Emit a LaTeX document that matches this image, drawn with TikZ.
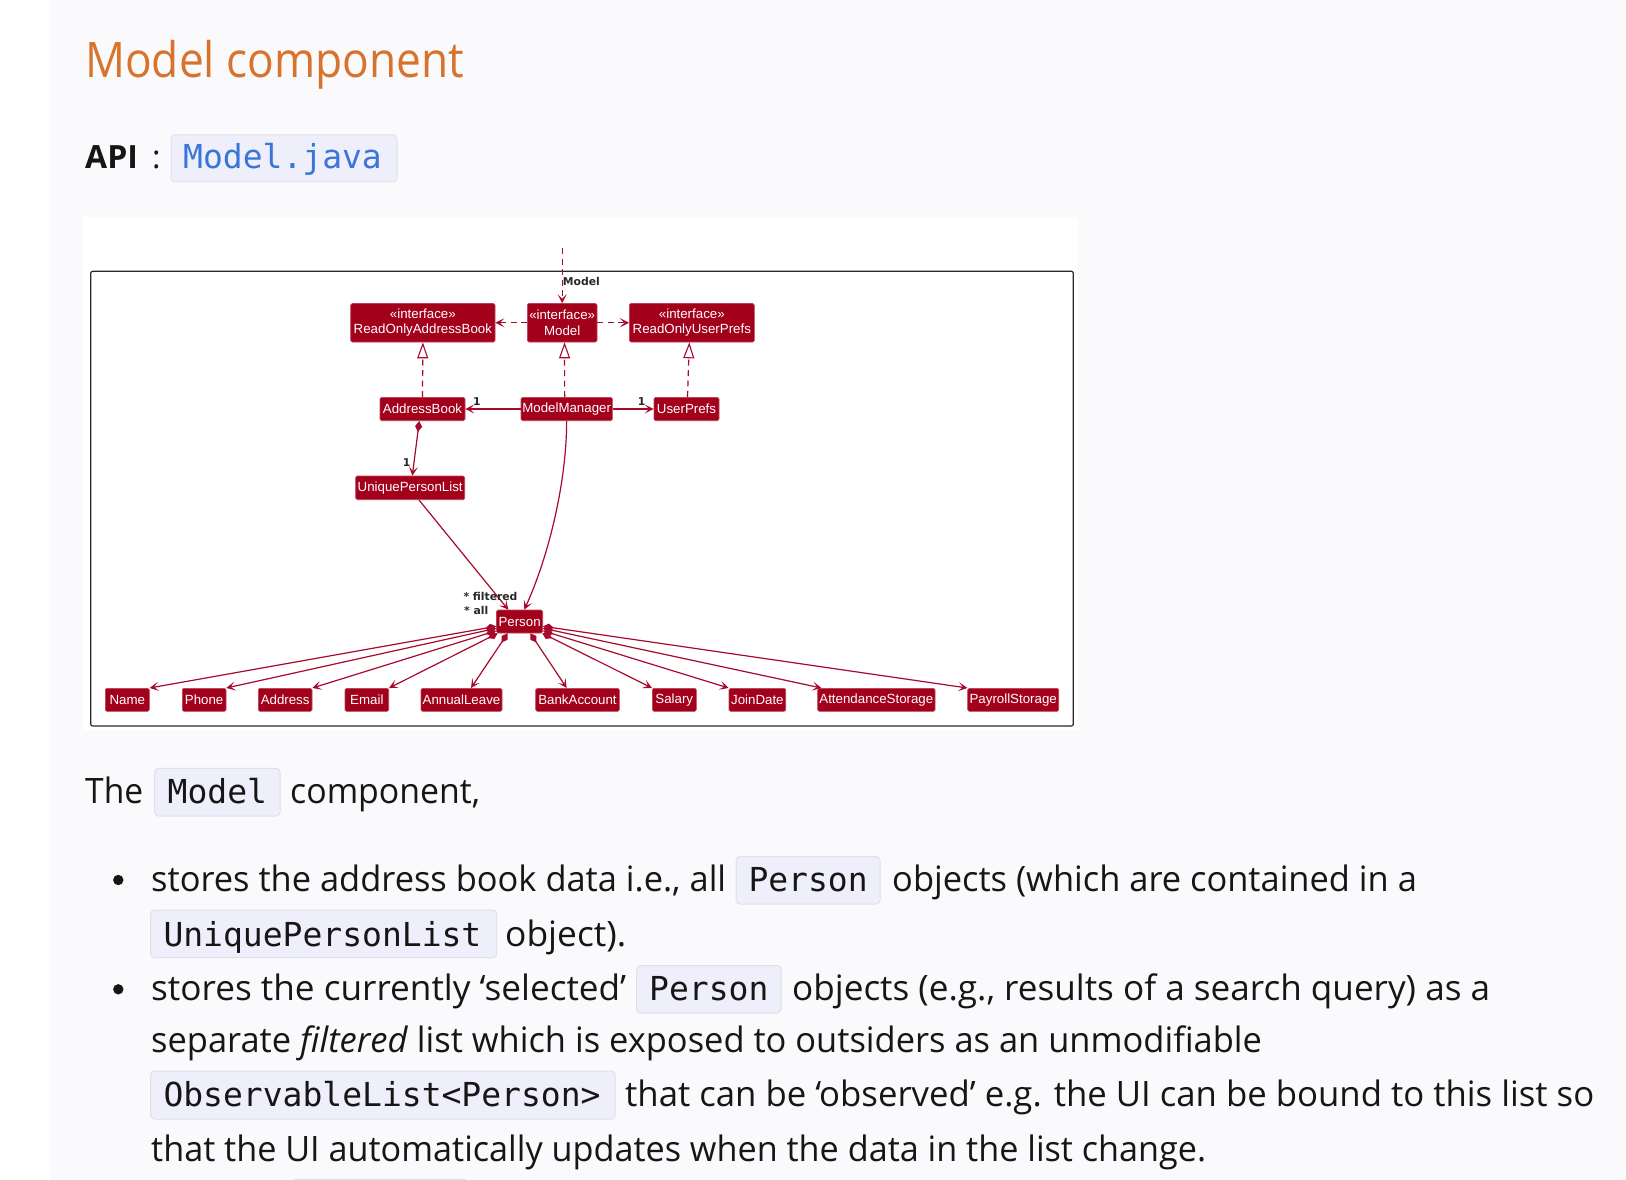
\documentclass[tikz,border=0pt]{standalone}
\usepackage{fontspec}
\usepackage{graphicx}
\setmainfont{Open Sans}
\newfontfamily\umlfont{Liberation Sans}
\newfontfamily\lblfont{DejaVu Sans}
\newfontfamily\codefont{DejaVu Sans Mono}
\usetikzlibrary{arrows.meta,calc}
\definecolor{umlred}{RGB}{163,0,28}
\definecolor{umlline}{RGB}{168,10,45}
\definecolor{pagebg}{RGB}{250,250,252}
\definecolor{headorange}{RGB}{216,115,46}
\definecolor{codebg}{RGB}{239,239,252}
\definecolor{codeborder}{RGB}{224,224,234}
\definecolor{codeblue}{RGB}{58,118,216}
\definecolor{bodytext}{RGB}{22,22,22}
\definecolor{framecol}{RGB}{40,40,40}
\newlength\fitlen
\newcommand\fitw[2]{\settowidth\fitlen{#2}\pgfmathsetmacro\fitratio{#1/\fitlen}\scalebox{\fitratio}[1]{#2}}
\tikzset{
  umlbox/.style={fill=umlred, draw=umlred!75!white, line width=0.6pt, rounded corners=1.5pt,
    text=white, font=\umlfont\fontsize{13.3}{15.6}\selectfont, inner sep=0pt, align=center},
  lbl/.style={font=\lblfont\bfseries\fontsize{10.8}{12}\selectfont, text=framecol, inner sep=0pt},
  conn/.style={draw=umlline, line width=1.2pt},
  dconn/.style={conn, dash pattern=on 6pt off 4.5pt},
  tipA/.style={-{Stealth[length=9pt,width=9pt,inset=4.5pt]}},
  realize/.style={dconn, -{Triangle[open,length=16pt,width=11pt,line width=1.1pt]}},
  compo/.style={conn, {Diamond[length=11pt,width=7pt]}-{Stealth[length=9pt,width=9pt,inset=4.5pt]}},
  body/.style={font=\fontsize{35}{42}\selectfont, text=bodytext, inner sep=0pt, anchor=base west},
  codebox/.style={fill=codebg, draw=codeborder, line width=1pt, rounded corners=4pt},
  code/.style={font=\codefont\fontsize{33}{40}\selectfont, text=bodytext, inner sep=0pt, anchor=base west}
}
\begin{document}
\begin{tikzpicture}[x=1pt,y=-1pt]
\useasboundingbox (0,0) rectangle (1626,1180);
\fill[white] (0,0) rectangle (1626,1180);
\fill[pagebg] (50,0) rectangle (1626,1180);

% heading
\node[inner sep=0pt, anchor=base west, font=\fontsize{49}{56}\selectfont, text=headorange] (title) at (85,77.3) {\fitw{379}{Model component}};

% API line
\node[inner sep=0pt, anchor=base west, font=\bfseries\fontsize{32}{38}\selectfont, text=bodytext] (api) at (85,168) {API};
\node[inner sep=0pt, anchor=base west, font=\fontsize{32}{38}\selectfont, text=bodytext] (colon) at (152,168) {:};
\path[codebox] (171,135) rectangle (397,182);
\node[code, text=codeblue] (apicode) at (183,168) {Model.java};

% diagram area
\fill[white] (83,217) rectangle (1078,730);
\draw[framecol, line width=1.2pt, rounded corners=2pt] (90.7,271.3) rectangle (1073.3,726);

\node[umlbox, minimum width=144.3pt, minimum height=38.5pt] (roab) at (422.85,322.75) {«interface»\\ReadOnlyAddressBook};
\node[umlbox, minimum width=69.7pt, minimum height=38.5pt] (model) at (562.15,322.75) {«interface»\\Model};
\node[umlbox, minimum width=125pt, minimum height=38.5pt] (roup) at (691.8,322.75) {«interface»\\ReadOnlyUserPrefs};
\node[umlbox, minimum width=85pt, minimum height=23.4pt] (ab) at (422.5,409) {AddressBook};
\node[umlbox, minimum width=91.3pt, minimum height=23.4pt] (mm) at (566.65,409) {ModelManager};
\node[umlbox, minimum width=65pt, minimum height=23.4pt] (up) at (686.5,409) {UserPrefs};
\node[umlbox, minimum width=109pt, minimum height=23.7pt] (upl) at (410.2,487.85) {UniquePersonList};
\node[umlbox, minimum width=46.2pt, minimum height=23pt] (person) at (519.6,621.5) {Person};

\node[umlbox, minimum width=44pt, minimum height=23pt] (name) at (127.3,699.8) {Name};
\node[umlbox, minimum width=43.7pt, minimum height=23pt] (phone) at (204.15,699.8) {Phone};
\node[umlbox, minimum width=53.7pt, minimum height=23pt] (address) at (285.15,699.8) {Address};
\node[umlbox, minimum width=43.7pt, minimum height=23pt] (email) at (366.85,699.8) {Email};
\node[umlbox, minimum width=81pt, minimum height=23pt] (annual) at (461.5,699.8) {AnnualLeave};
\node[umlbox, minimum width=83.6pt, minimum height=23pt] (bank) at (577.5,699.8) {BankAccount};
\node[umlbox, minimum width=44pt, minimum height=23pt] (salary) at (674.3,699.8) {Salary};
\node[umlbox, minimum width=56.7pt, minimum height=23pt] (join) at (757.35,699.8) {JoinDate};
\node[umlbox, minimum width=117.3pt, minimum height=23pt] (attend) at (876.35,699.8) {AttendanceStorage};
\node[umlbox, minimum width=91pt, minimum height=23pt] (payroll) at (1013.2,699.8) {PayrollStorage};

% connectors
\coordinate (topin) at (562.15,248);
\draw[dconn, tipA] (topin) -- (model.north);
\draw[dconn, tipA] (model.west) -- (roab.east);
\draw[dconn, tipA] (model.east) -- (roup.west);
\draw[realize] (ab.north) -- (roab.south);
\draw[realize] ($(mm.north)+(-2,0)$) -- ($(model.south)+(2.4,0)$);
\draw[realize] ($(up.north)+(1,0)$) -- ($(roup.south)+(-2.5,0)$);
\draw[conn, tipA] (mm.west) -- (ab.east);
\draw[conn, tipA] (mm.east) -- (up.west);
\draw[compo] ($(ab.south)+(-3.2,0)$) -- ($(upl.north)+(2.1,0)$);
\draw[conn, tipA] ($(upl.south)+(8.8,0)$) -- ($(person.north)+(-11.3,0)$);
\draw[conn, tipA] (mm.south) .. controls +(0,60) and +(25,-55) .. ($(person.north)+(4.7,0)$);

\draw[compo] ($(person.south west)+(0,-7)$) -- (name.north east);
\draw[compo] ($(person.south west)+(0,-5)$) -- (phone.north east);
\draw[compo] ($(person.south west)+(0,-2.5)$) -- (address.north east);
\draw[compo] ($(person.south west)+(1.5,0)$) -- (email.north east);
\draw[compo] ($(person.south west)+(11.5,0)$) -- ($(annual.north)+(9.5,0)$);
\draw[compo] ($(person.south east)+(-12.7,0)$) -- ($(bank.north)+(-10.8,0)$);
\draw[compo] ($(person.south east)+(-0.7,0)$) -- (salary.north west);
\draw[compo] ($(person.south east)+(0,-2.5)$) -- (join.north west);
\draw[compo] ($(person.south east)+(0,-5)$) -- ($(attend.north west)+(4,0)$);
\draw[compo] ($(person.south east)+(0,-7)$) -- (payroll.north west);

% labels
\node[lbl, anchor=west] (lmodel) at (562.7,281) {Model};
\node[lbl] (l1a) at (477,401.7) {1};
\node[lbl] (l1b) at (641.7,402) {1};
\node[lbl] (l1c) at (406.7,462.3) {1};
\node[lbl, anchor=west] (lfilt) at (463.3,596) {* filtered};
\node[lbl, anchor=west] (lall) at (464,610) {* all};

% body text
\node[body] (t1) at (85,803.3) {\fitw{58}{The}};
\path[codebox] (154.5,768.3) rectangle (280,816);
\node[code] (c1) at (167.5,803.3) {Model};
\node[body] (t2) at (290,803.3) {\fitw{190}{component,}};

\fill[bodytext] (118.3,880) circle[radius=5.2pt];
\node[body] (b1a) at (151,891.7) {\fitw{575}{stores the address book data i.e., all}};
\path[codebox] (736,856.5) rectangle (880,904);
\node[code] (c2) at (748.3,891.7) {Person};
\node[body] (b1b) at (892,891.7) {\fitw{524.7}{objects (which are contained in a}};
\path[codebox] (150.7,910) rectangle (496.7,957.7);
\node[code] (c3) at (163.3,946) {UniquePersonList};
\node[body] (b1c) at (505,946) {\fitw{121}{object).}};

\fill[bodytext] (118.3,989.3) circle[radius=5.2pt];
\node[body] (b2a) at (151,1000) {\fitw{475}{stores the currently ‘selected’}};
\path[codebox] (636.7,965.5) rectangle (781,1013);
\node[code] (c4) at (649,1000) {Person};
\node[body] (b2b) at (792,1000) {\fitw{698}{objects (e.g., results of a search query) as a}};
\node[body] (b2c) at (151,1052.3) {\fitw{1110.7}{separate \textit{filtered} list which is exposed to outsiders as an unmodifiable}};
\path[codebox] (150.7,1071) rectangle (615,1119);
\node[code] (c5) at (163.3,1106.7) {ObservableList<Person>};
\node[body] (b2d) at (625,1106.7) {\fitw{969}{that can be ‘observed’ e.g. the UI can be bound to this list so}};
\node[body] (b2e) at (151,1161.7) {\fitw{1055}{that the UI automatically updates when the data in the list change.}};
\path[codebox] (291.7,1179.3) rectangle (468,1200);
\end{tikzpicture}
\end{document}
